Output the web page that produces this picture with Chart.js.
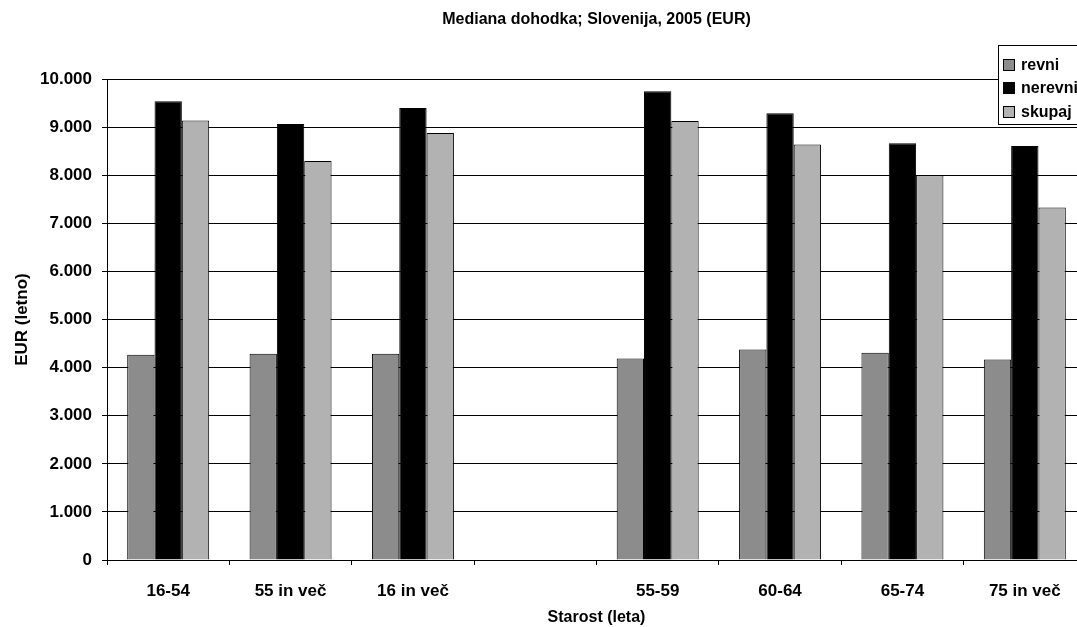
<!DOCTYPE html>
<html>
<head>
<meta charset="utf-8">
<script src="https://cdn.jsdelivr.net/npm/chart.js@4/dist/chart.umd.min.js"></script>
<style>
html,body{margin:0;padding:0;background:#fff;overflow:hidden;width:1077px;height:627px;}
#wrap{position:absolute;left:0;top:0;width:1100px;height:627px;}
</style>
</head>
<body>
<div id="wrap"><canvas id="c" width="1100" height="627"></canvas></div>
<script>
const categories = ["16-54", "55 in več", "16 in več", "", "55-59", "60-64", "65-74", "75 in več"];
const revni   = [4270, 4290, 4290, null, 4190, 4380, 4310, 4170];
const nerevni = [9540, 9070, 9400, null, 9750, 9290, 8670, 8610];
const skupaj  = [9140, 8300, 8880, null, 9130, 8640, 8000, 7330];
const seriesNames = ["revni", "nerevni", "skupaj"];
const yTicks = [0, 1000, 2000, 3000, 4000, 5000, 6000, 7000, 8000, 9000, 10000];

const FONT = "'Liberation Sans', Arial, sans-serif";
const colors = ["#8c8c8c", "#000000", "#b2b2b2"];

function fmt(v){ return v.toString().replace(/\B(?=(\d{3})+(?!\d))/g, "."); }

const legendPlugin = {
  id: 'customLegend',
  afterDraw(chart){
    const ctx = chart.ctx;
    const x0 = 998, y0 = 45, w = 120, h = 79;
    ctx.save();
    ctx.fillStyle = "#fff";
    ctx.fillRect(x0, y0, w, h);
    ctx.strokeStyle = "#000";
    ctx.lineWidth = 1;
    ctx.strokeRect(x0 + 0.5, y0 + 0.5, w, h);
    ctx.font = "bold 16px " + FONT;
    ctx.textBaseline = "middle";
    const ys = [65, 88, 112];
    seriesNames.forEach((n, i) => {
      ctx.fillStyle = colors[i];
      ctx.fillRect(1003, ys[i] - 6, 12, 12);
      ctx.strokeStyle = "#000";
      ctx.strokeRect(1003.5, ys[i] - 5.5, 11, 11);
      ctx.fillStyle = "#000";
      ctx.fillText(n, 1021, ys[i] + 1);
    });
    ctx.restore();
  }
};

new Chart(document.getElementById('c'), {
  type: 'bar',
  data: {
    labels: categories,
    datasets: seriesNames.map((n, i) => ({
      label: n,
      data: [revni, nerevni, skupaj][i],
      backgroundColor: colors[i],
      borderColor: "#000",
      borderWidth: 1,
      barPercentage: 1,
      categoryPercentage: 0.67
    }))
  },
  options: {
    responsive: false,
    animation: false,
    devicePixelRatio: 1,
    layout: { padding: { left: 0, right: 14, top: 0, bottom: 0 } },
    plugins: {
      legend: { display: false },
      tooltip: { enabled: false },
      title: {
        display: true,
        fullSize: false,
        text: "Mediana dohodka; Slovenija, 2005 (EUR)",
        color: "#000",
        font: { family: FONT, size: 16, weight: 'bold' },
        padding: { top: 10, bottom: 50 }
      }
    },
    scales: {
      x: {
        grid: { display: true, offset: true, drawOnChartArea: false, drawTicks: true, tickLength: 5, color: "#000" },
        border: { display: true, color: "#000", width: 1 },
        ticks: { color: "#000", font: { family: FONT, size: 17, weight: 'bold' }, padding: 16, maxRotation: 0, autoSkip: false },
        title: { display: true, text: "Starost (leta)", color: "#000", font: { family: FONT, size: 16, weight: 'bold' }, padding: { top: 4, bottom: 0 } },
        afterFit(s){ s.height = 67; }
      },
      y: {
        min: 0, max: 10000,
        afterBuildTicks(s){ s.ticks = yTicks.map(v => ({ value: v })); },
        grid: { display: true, color: "#000", lineWidth: 1, drawTicks: true, tickLength: 5 },
        border: { display: true, color: "#000", width: 1 },
        ticks: { color: "#000", font: { family: FONT, size: 17, weight: 'bold' }, padding: 10, callback: v => fmt(v) },
        title: { display: true, text: "EUR (letno)", color: "#000", font: { family: FONT, size: 17, weight: 'bold' }, padding: { top: 12, bottom: 0 } },
        afterFit(s){ s.width = 107; }
      }
    }
  },
  plugins: [legendPlugin]
});
</script>
</body>
</html>
